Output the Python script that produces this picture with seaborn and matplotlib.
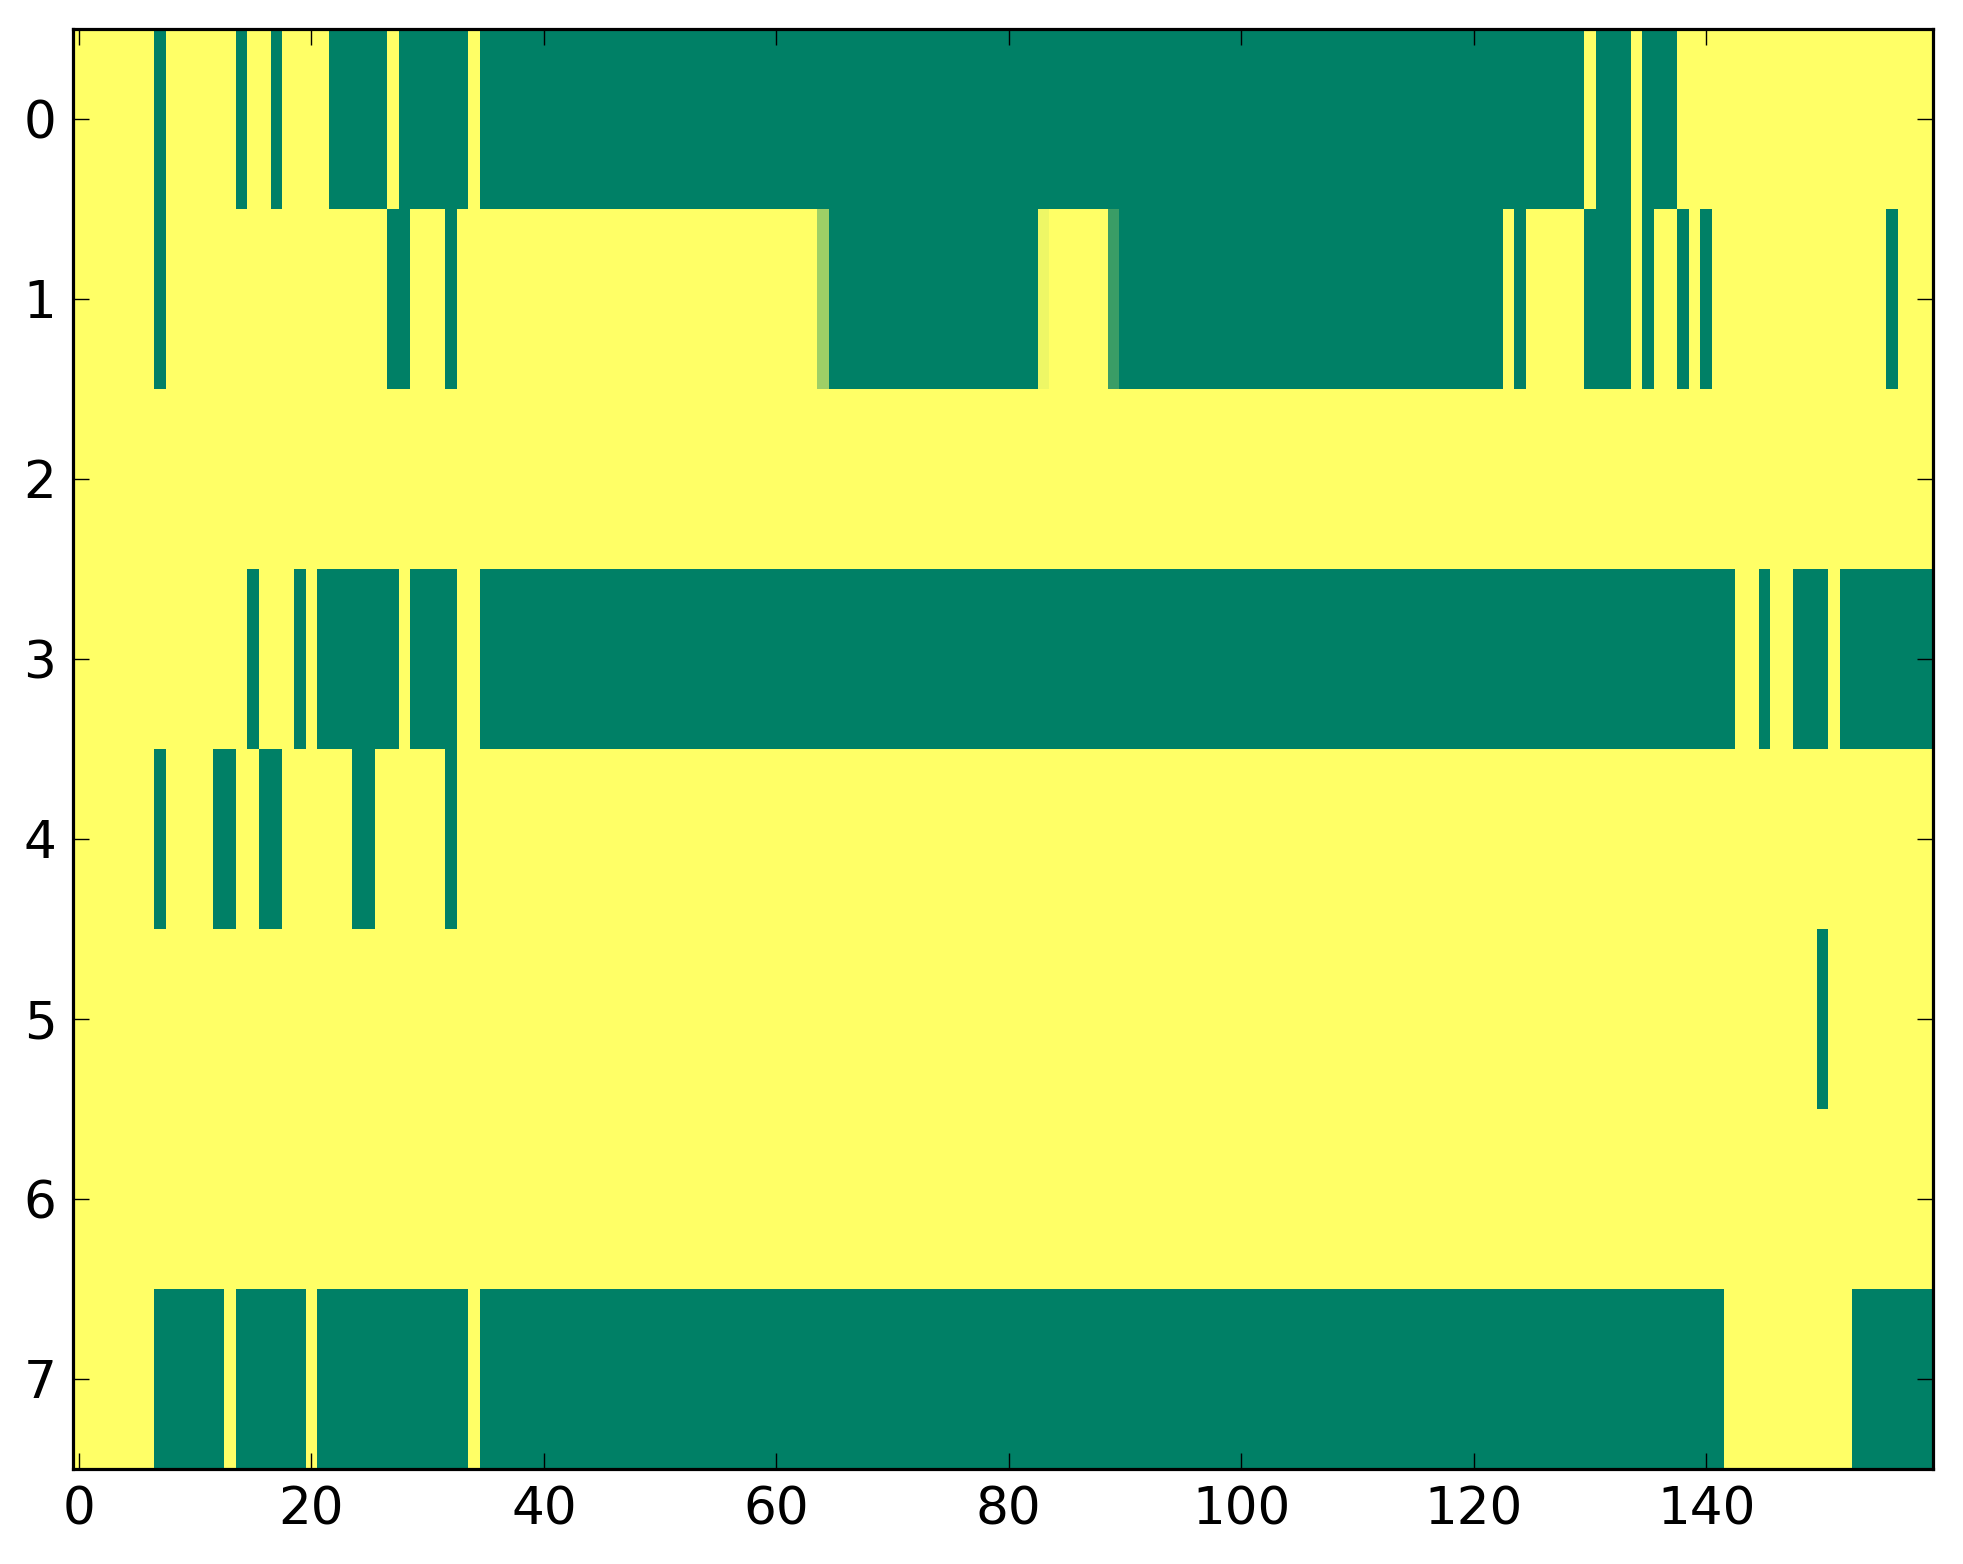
import numpy as np
import pandas as pd
import matplotlib
matplotlib.use("Agg")
import matplotlib.pyplot as plt
import seaborn as sns

n_rows = 8
n_cols = 160

# Columns (inclusive ranges) that are green (value 0) in each row; the rest are yellow (value 1)
row0_green = [(7, 7), (14, 14), (17, 17), (22, 26), (28, 33), (35, 129), (131, 133), (135, 137)]
row1_green = [(7, 7), (27, 28), (32, 32), (65, 82), (90, 122), (124, 124), (130, 133),
              (135, 135), (138, 138), (140, 140), (156, 156)]
row2_green = []
row3_green = [(15, 15), (19, 19), (21, 27), (29, 32), (35, 142), (145, 145), (148, 150), (152, 159)]
row4_green = [(7, 7), (12, 13), (16, 17), (24, 25), (32, 32)]
row5_green = [(150, 150)]
row6_green = []
row7_green = [(7, 12), (14, 19), (21, 33), (35, 141), (153, 159)]

# Cells with intermediate values: (row, column, value)
partial_cells = [(1, 64, 0.62), (1, 83, 0.93), (1, 89, 0.23)]

x_tick_values = [0, 20, 40, 60, 80, 100, 120, 140]
y_tick_values = [0, 1, 2, 3, 4, 5, 6, 7]

rows_green = [row0_green, row1_green, row2_green, row3_green,
              row4_green, row5_green, row6_green, row7_green]
grid = np.ones((n_rows, n_cols))
for r, runs in enumerate(rows_green):
    for a, b in runs:
        grid[r, a:b + 1] = 0.0
for r, c, v in partial_cells:
    grid[r, c] = v
df = pd.DataFrame(grid)

plt.rcParams["font.family"] = ["DejaVu Sans"]

fig = plt.figure(figsize=(9.815, 7.82), dpi=200)
ax = fig.add_axes([0.0372, 0.061, 0.9475, 0.9207])
sns.heatmap(df, cmap="summer", vmin=0, vmax=1, cbar=False, ax=ax,
            xticklabels=False, yticklabels=False, rasterized=True)

ax.set_xlim(0, n_cols)
ax.set_ylim(n_rows, 0)
ax.set_xticks(np.array(x_tick_values) + 0.5)
ax.set_xticklabels([str(v) for v in x_tick_values])
ax.set_yticks(np.array(y_tick_values) + 0.5)
ax.set_yticklabels([str(v) for v in y_tick_values], rotation=0)

ax.tick_params(direction="in", length=5.6, width=0.5, color="black",
               top=True, right=True, labelsize=18.6, pad=6)
for s in ax.spines.values():
    s.set_visible(True)
    s.set_linewidth(1.15)
    s.set_color("black")
ax.set_xlabel("")
ax.set_ylabel("")

fig.savefig("out.png", dpi=200)
